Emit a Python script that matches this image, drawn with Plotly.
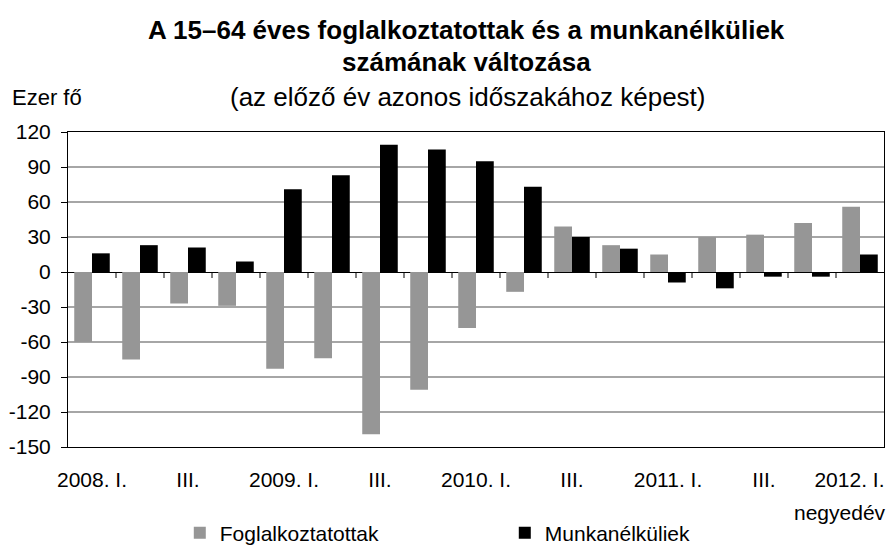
import plotly.graph_objects as go

quarters = ["2008. I.", "II.", "III.", "IV.",
            "2009. I.", "II.", "III.", "IV.",
            "2010. I.", "II.", "III.", "IV.",
            "2011. I.", "II.", "III.", "IV.",
            "2012. I."]
foglalkoztatottak = [-60, -75, -27, -29, -83, -74, -139, -101,
                     -48, -17, 39, 23, 15, 30, 32, 42, 56]
munkanelkuliek = [16, 23, 21, 9, 71, 83, 109, 105,
                  95, 73, 30, 20, -9, -14, -4, -4, 15]
y_ticks = [120, 90, 60, 30, 0, -30, -60, -90, -120, -150]

FONT = "Liberation Sans, Arial, sans-serif"
x = list(range(len(quarters)))

# every second quarter is labelled; the last label sits a bit left so it stays on the page
label_pos = x[::2]
label_pos[-1] = label_pos[-1] - 0.22

fig = go.Figure()
fig.add_trace(go.Bar(x=x, y=foglalkoztatottak, name="Foglalkoztatottak",
                     marker=dict(color="#969696", line=dict(width=0))))
fig.add_trace(go.Bar(x=x, y=munkanelkuliek, name="Munkanélküliek",
                     marker=dict(color="#000000", line=dict(width=0))))

# tick marks on the category axis (crossing at zero), between categories
for i in range(len(quarters) - 1):
    fig.add_shape(type="line", xref="x", yref="y", x0=i + 0.5, x1=i + 0.5,
                  ysizemode="pixel", yanchor=0, y0=0, y1=-6,
                  line=dict(color="black", width=1))

fig.update_layout(
    width=892, height=545,
    margin=dict(l=68, r=8, t=132, b=98, autoexpand=False),
    paper_bgcolor="white", plot_bgcolor="white",
    font=dict(family=FONT, color="black"),
    barmode="group", bargap=0.26, bargroupgap=0,
    showlegend=True,
    legend=dict(orientation="h", x=0.137, xanchor="left", y=-0.273, yanchor="middle",
                font=dict(size=21), entrywidth=280, entrywidthmode="pixels",
                itemwidth=30),
    xaxis=dict(range=[-0.5, len(quarters) - 0.5],
               tickmode="array", tickvals=label_pos, ticktext=quarters[::2],
               showline=True, linecolor="black", linewidth=1, mirror=True,
               showgrid=False, zeroline=False, ticks="", ticklabelstandoff=14,
               ticklabeloverflow="allow", tickfont=dict(size=21)),
    yaxis=dict(range=[-150, 120], tickmode="array", tickvals=y_ticks,
               ticktext=[str(v) for v in y_ticks],
               showline=True, linecolor="black", linewidth=1, mirror=True,
               showgrid=True, gridcolor="#a6a6a6", gridwidth=1.5,
               zeroline=True, zerolinecolor="black", zerolinewidth=1,
               ticks="outside", ticklen=6, tickcolor="black",
               ticklabelstandoff=6, tickfont=dict(size=21)),
    annotations=[
        dict(text="<b>A 15–64 éves foglalkoztatottak és a munkanélküliek</b>",
             xref="paper", yref="paper", x=0.5, xshift=-10, y=1, yshift=102,
             showarrow=False, font=dict(size=26), xanchor="center", yanchor="middle"),
        dict(text="<b>számának változása</b>",
             xref="paper", yref="paper", x=0.5, xshift=-10, y=1, yshift=70,
             showarrow=False, font=dict(size=26), xanchor="center", yanchor="middle"),
        dict(text="(az előző év azonos időszakához képest)",
             xref="paper", yref="paper", x=0.5, xshift=-8, y=1, yshift=35,
             showarrow=False, font=dict(size=26), xanchor="center", yanchor="middle"),
        dict(text="Ezer fő", xref="paper", yref="paper", x=0, xshift=-58,
             y=1, yshift=35, showarrow=False, font=dict(size=22),
             xanchor="left", yanchor="middle"),
        dict(text="negyedév", xref="paper", yref="paper", x=1, xshift=4,
             y=0, yshift=-65, showarrow=False, font=dict(size=21),
             xanchor="right", yanchor="middle"),
    ],
)

# drop the default body margin so the 892x545 figure fills the window exactly
fig.write_html("out.html", config={"displayModeBar": False},
               post_script="document.body.style.margin='0';"
                           "document.body.style.overflow='hidden';")
